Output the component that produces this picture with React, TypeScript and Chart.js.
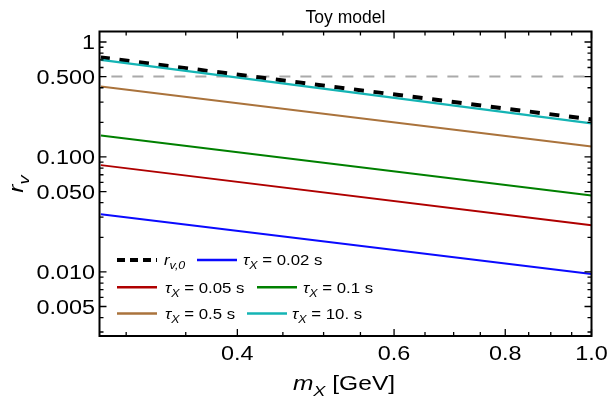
import React, { useEffect, useRef } from 'react';
import { Chart, registerables } from 'chart.js';
Chart.register(...registerables);

// ---- data ----
const massX = [0.281, 1.0];
const rv0 = [0.735, 0.212];
const tau002 = [0.0318, 0.00957];
const tau005 = [0.0849, 0.0255];
const tau01 = [0.1535, 0.0462];
const tau05 = [0.4095, 0.1232];
const tau10 = [0.699, 0.196];
const refLevel = [0.5, 0.5];

const xRange = [0.281, 1.0];
const yRange = [0.00277, 1.234];
const xMajorTicks = [0.4, 0.6, 0.8, 1.0];
const xMajorLabels = ['0.4', '0.6', '0.8', '1.0'];
const xMinorTicks = [0.3, 0.35, 0.45, 0.5, 0.55, 0.65, 0.7, 0.75, 0.85, 0.9, 0.95];
const yMajorTicks = [0.005, 0.01, 0.05, 0.1, 0.5, 1];
const yMajorLabels = ['0.005', '0.010', '0.050', '0.100', '0.500', '1'];
const yMinorTicks = [0.003, 0.004, 0.006, 0.007, 0.008, 0.009, 0.02, 0.03, 0.04, 0.06, 0.07, 0.08, 0.09, 0.2, 0.3, 0.4, 0.6, 0.7, 0.8, 0.9];
const tauLabels = ['0.02 s', '0.05 s', '0.1 s', '0.5 s', '10. s'];

const FONT = '"Liberation Sans", Arial, sans-serif';
const COLORS = ['rgb(10,10,255)', 'rgb(175,0,0)', 'rgb(0,128,0)', 'rgb(170,115,60)', 'rgb(20,180,180)'];

type Run = { t: string; it?: boolean; sub?: boolean };

function runsWidth(ctx: CanvasRenderingContext2D, runs: Run[], size: number, sx: number) {
  let w = 0;
  for (const r of runs) {
    const s = r.sub ? size * 0.74 : size;
    ctx.font = `${r.it ? 'italic ' : ''}${s}px ${FONT}`;
    w += ctx.measureText(r.t).width * sx;
  }
  return w;
}

function drawRuns(ctx: CanvasRenderingContext2D, runs: Run[], x: number, y: number, size: number, sx: number) {
  let cx = x;
  ctx.textAlign = 'left';
  ctx.textBaseline = 'alphabetic';
  for (const r of runs) {
    const s = r.sub ? size * 0.74 : size;
    ctx.font = `${r.it ? 'italic ' : ''}${s}px ${FONT}`;
    const w = ctx.measureText(r.t).width;
    ctx.save();
    ctx.translate(cx, y + (r.sub ? size * 0.27 : 0));
    ctx.scale(sx, 1);
    ctx.fillText(r.t, 0, 0);
    ctx.restore();
    cx += w * sx;
  }
}

const framePlugin = {
  id: 'mmaFrame',
  afterDraw(chart: any) {
    const ctx: CanvasRenderingContext2D = chart.ctx;
    const { left, right, top, bottom } = chart.chartArea;
    const xs = chart.scales.x;
    const ys = chart.scales.y;
    ctx.save();
    ctx.fillStyle = '#000';
    ctx.strokeStyle = '#000';

    // ticks
    ctx.lineWidth = 1.3;
    const tick = (v: number, len: number, horiz: boolean) => {
      ctx.beginPath();
      if (horiz) {
        const px = xs.getPixelForValue(v);
        ctx.moveTo(px, bottom); ctx.lineTo(px, bottom - len);
        ctx.moveTo(px, top); ctx.lineTo(px, top + len);
      } else {
        const py = ys.getPixelForValue(v);
        ctx.moveTo(left, py); ctx.lineTo(left + len, py);
        ctx.moveTo(right, py); ctx.lineTo(right - len, py);
      }
      ctx.stroke();
    };
    xMajorTicks.forEach(v => tick(v, 7, true));
    xMinorTicks.forEach(v => tick(v, 4, true));
    yMajorTicks.forEach(v => tick(v, 7, false));
    yMinorTicks.forEach(v => tick(v, 4, false));

    // frame
    ctx.lineWidth = 2;
    ctx.strokeRect(left, top, right - left, bottom - top);

    // tick labels
    const TS = 20, TSX = 1.17;
    xMajorTicks.forEach((v, i) => {
      const runs = [{ t: xMajorLabels[i] }];
      const w = runsWidth(ctx, runs, TS, TSX);
      drawRuns(ctx, runs, xs.getPixelForValue(v) - w / 2, 359.5, TS, TSX);
    });
    yMajorTicks.forEach((v, i) => {
      const runs = [{ t: yMajorLabels[i] }];
      const w = runsWidth(ctx, runs, TS, TSX);
      drawRuns(ctx, runs, left - 4.5 - w, ys.getPixelForValue(v) + TS * 0.358, TS, TSX);
    });

    // title
    const tRuns = [{ t: 'Toy model' }];
    const tw = runsWidth(ctx, tRuns, 17.5, 1);
    drawRuns(ctx, tRuns, (left + right) / 2 - tw / 2, 22.5, 17.5, 1);

    // x title
    const xr: Run[] = [{ t: 'm', it: true }, { t: 'X', it: true, sub: true }, { t: ' [GeV]' }];
    const xw = runsWidth(ctx, xr, 21, 1.17);
    drawRuns(ctx, xr, 344 - xw / 2, 390, 21, 1.17);

    // y title
    const yr: Run[] = [{ t: 'r', it: true }, { t: 'v', it: true, sub: true }];
    const yw = runsWidth(ctx, yr, 21, 1.17);
    ctx.save();
    ctx.translate(23, 184);
    ctx.rotate(-Math.PI / 2);
    drawRuns(ctx, yr, -yw / 2, 0, 21, 1.17);
    ctx.restore();

    // legend
    const LS = 15, LSX = 1.12;
    const tauRuns = (s: string): Run[] => [{ t: 'τ', it: true }, { t: 'X', it: true, sub: true }, { t: ' = ' + s }];
    const items = [
      { x0: 117, x1: 157, y: 260, color: '#000', w: 4, dash: [8, 5], tx: 164, runs: [{ t: 'r', it: true }, { t: 'v,0', it: true, sub: true }] as Run[] },
      { x0: 197, x1: 237, y: 260, color: COLORS[0], w: 2.6, dash: [], tx: 243, runs: tauRuns(tauLabels[0]) },
      { x0: 117, x1: 157, y: 287.3, color: COLORS[1], w: 2.6, dash: [], tx: 165, runs: tauRuns(tauLabels[1]) },
      { x0: 257, x1: 297, y: 287.3, color: COLORS[2], w: 2.6, dash: [], tx: 303, runs: tauRuns(tauLabels[2]) },
      { x0: 117, x1: 157, y: 313.5, color: COLORS[3], w: 2.6, dash: [], tx: 165, runs: tauRuns(tauLabels[3]) },
      { x0: 247, x1: 287, y: 313.5, color: COLORS[4], w: 2.6, dash: [], tx: 292, runs: tauRuns(tauLabels[4]) },
    ];
    for (const it of items) {
      ctx.save();
      ctx.strokeStyle = it.color;
      ctx.lineWidth = it.w;
      ctx.setLineDash(it.dash);
      ctx.beginPath();
      ctx.moveTo(it.x0, it.y);
      ctx.lineTo(it.x1, it.y);
      ctx.stroke();
      ctx.restore();
      ctx.fillStyle = '#000';
      drawRuns(ctx, it.runs, it.tx, it.y + 5.3, LS, LSX);
    }
    ctx.restore();
  },
};

const pts = (ys: number[]) => massX.map((x, i) => ({ x, y: ys[i] }));

export default function App() {
  const ref = useRef<HTMLCanvasElement>(null);
  useEffect(() => {
    const base = { pointRadius: 0, fill: false, tension: 0 };
    const datasets: any[] = [
      { ...base, label: 'τX = 10. s', data: pts(tau10), borderColor: COLORS[4], borderWidth: 2.3, order: 0 },
      { ...base, label: 'rv0', data: pts(rv0), borderColor: '#000', borderWidth: 4, borderDash: [10, 9.7], borderDashOffset: 1, order: 1 },
      { ...base, label: 'τX = 0.5 s', data: pts(tau05), borderColor: COLORS[3], borderWidth: 2, order: 2 },
      { ...base, label: 'τX = 0.1 s', data: pts(tau01), borderColor: COLORS[2], borderWidth: 2, order: 3 },
      { ...base, label: 'τX = 0.05 s', data: pts(tau005), borderColor: COLORS[1], borderWidth: 2, order: 4 },
      { ...base, label: 'τX = 0.02 s', data: pts(tau002), borderColor: COLORS[0], borderWidth: 2, order: 5 },
      { ...base, label: 'ref', data: pts(refLevel), borderColor: '#aaaaaa', borderWidth: 2, borderDash: [11, 10], borderDashOffset: 10.5, order: 6 },
    ];
    const chart = new Chart(ref.current!, {
      type: 'line',
      data: { datasets },
      options: {
        responsive: false,
        animation: false,
        layout: { padding: { top: 31.5, right: 18.5, left: 0, bottom: 0 } },
        plugins: { legend: { display: false }, tooltip: { enabled: false }, title: { display: false } },
        scales: {
          x: {
            type: 'logarithmic', min: xRange[0], max: xRange[1],
            ticks: { display: false }, grid: { display: false }, border: { display: false },
            afterFit: (s: any) => { s.height = 64; },
          },
          y: {
            type: 'logarithmic', min: yRange[0], max: yRange[1],
            ticks: { display: false }, grid: { display: false }, border: { display: false },
            afterFit: (s: any) => { s.width = 99.5; },
          },
        },
      },
      plugins: [framePlugin],
    } as any);
    return () => chart.destroy();
  }, []);
  return (
    <div style={{ position: 'fixed', left: 0, top: 0, width: 610, height: 400, background: '#fff' }}>
      <canvas ref={ref} width={610} height={400} style={{ width: 610, height: 400, display: 'block' }} />
    </div>
  );
}
